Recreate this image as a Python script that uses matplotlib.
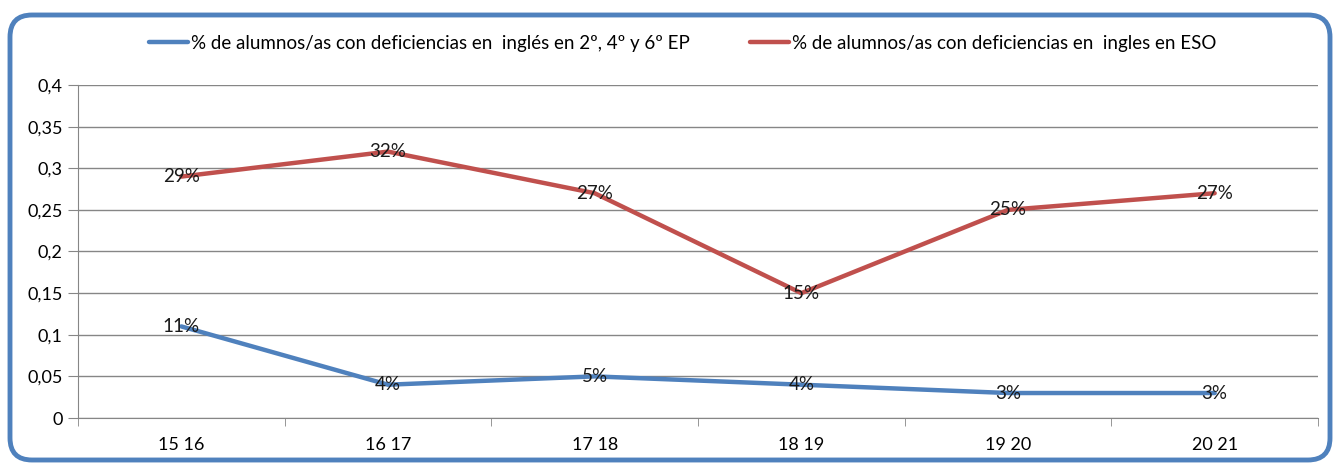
import matplotlib.pyplot as plt
from matplotlib.patches import FancyBboxPatch

years = ["15 16", "16 17", "17 18", "18 19", "19 20", "20 21"]
ep_values = [0.11, 0.04, 0.05, 0.04, 0.03, 0.03]
eso_values = [0.29, 0.32, 0.27, 0.15, 0.25, 0.27]
ep_label = "% de alumnos/as con deficiencias en  inglés en 2º, 4º y 6º EP"
eso_label = "% de alumnos/as con deficiencias en  ingles en ESO"
y_ticks = [0, 0.05, 0.1, 0.15, 0.2, 0.25, 0.3, 0.35, 0.4]
y_tick_labels = ["0", "0,05", "0,1", "0,15", "0,2", "0,25", "0,3", "0,35", "0,4"]

BLUE = "#4F81BD"
RED = "#C0504D"
GRID = "#868686"

plt.rcParams["font.family"] = ["Lato", "DejaVu Sans"]

fig = plt.figure(figsize=(13.38, 4.65), dpi=100)
ax = fig.add_axes([78 / 1338, 1 - 418 / 465, 1240 / 1338, 333 / 465])

x = list(range(len(years)))
ax.plot(x, ep_values, color=BLUE, lw=3.2, label=ep_label, solid_capstyle="round")
ax.plot(x, eso_values, color=RED, lw=3.2, label=eso_label, solid_capstyle="round")

# data labels centred on the points, like Excel
for xi, v in zip(x, ep_values):
    ax.text(xi, v, f"{round(v * 100)}%", ha="center", va="center", fontsize=13.5, color="#1a1a1a")
for xi, v in zip(x, eso_values):
    ax.text(xi, v, f"{round(v * 100)}%", ha="center", va="center", fontsize=13.5, color="#1a1a1a")

ax.set_xlim(-0.5, len(years) - 0.5)
ax.set_ylim(0, 0.4)
ax.set_yticks(y_ticks)
ax.set_yticklabels(y_tick_labels, fontsize=13)
ax.set_xticks(x)
ax.set_xticklabels(years, fontsize=13)
ax.set_xticks([i - 0.5 for i in range(len(years) + 1)], minor=True)
ax.tick_params(axis="x", which="major", length=0, pad=14)
ax.tick_params(axis="x", which="minor", length=6, color=GRID, direction="out")
ax.tick_params(axis="y", length=7, color=GRID, pad=4)

ax.grid(True, axis="y", color=GRID, lw=1)
ax.set_axisbelow(True)
for side in ["top", "right"]:
    ax.spines[side].set_visible(False)
ax.spines["left"].set_color(GRID)
ax.spines["bottom"].set_color(GRID)

fig.legend(loc="center", bbox_to_anchor=(0.51, 1 - 43 / 465), ncol=2, frameon=False,
           fontsize=13.5, handlelength=2.1, handletextpad=0.15, columnspacing=3.2)

border = FancyBboxPatch((10, 465 - 460), 1320, 445, boxstyle="round,pad=0,rounding_size=22",
                        transform=None, fill=False, edgecolor=BLUE, lw=3.5)
fig.patches.append(border)

fig.savefig("out.png", dpi=100)
